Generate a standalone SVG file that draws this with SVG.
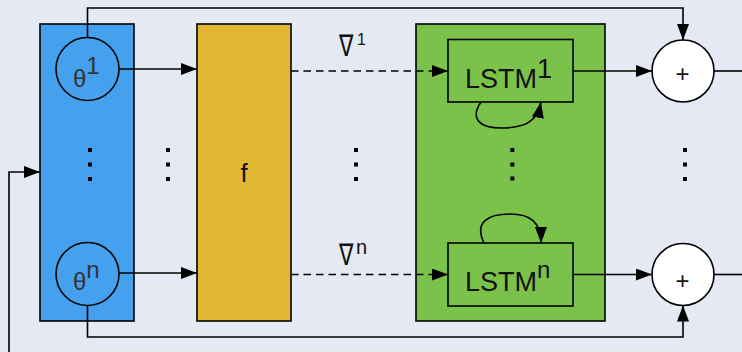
<svg xmlns="http://www.w3.org/2000/svg" width="742" height="352" viewBox="0 0 742 352">
<defs>
<marker id="ah" viewBox="0 0 16 12" refX="16" refY="6" markerWidth="16" markerHeight="12" markerUnits="userSpaceOnUse" orient="auto">
<path d="M0,0 L16,6 L0,12 Z" fill="#000"/>
</marker>
</defs>
<style>
.box{stroke:#000;stroke-width:1.6}
.ln{fill:none;stroke:#000;stroke-width:1.6}
.dash{stroke-dasharray:7.5 5}
.t{font-family:"Liberation Sans",Arial,sans-serif;fill:#111}
.g{font-family:"Liberation Sans",Arial,sans-serif;fill:#333;font-size:24px}
.nab{font-family:"Liberation Sans","DejaVu Sans",sans-serif;fill:#111;font-size:30px}
.dot{fill:#000}
</style>
<rect width="742" height="352" fill="#e5e9f3"/>

<g id="theta-column">
<rect class="box" x="40" y="24" width="94" height="297" fill="#45a0ee"/>
<rect class="dot" x="88" y="148" width="4" height="4"/>
<rect class="dot" x="88" y="162.5" width="4" height="4"/>
<rect class="dot" x="88" y="177" width="4" height="4"/>
</g>
<g id="theta1">
<circle class="box" cx="87.5" cy="69" r="31.5" fill="#45a0ee"/>
<text class="g" x="73" y="87">θ<tspan dy="-13">1</tspan></text>
</g>
<g id="thetan">
<circle class="box" cx="87.5" cy="274" r="31.5" fill="#45a0ee"/>
<text class="g" x="73" y="290">θ<tspan dy="-12">n</tspan></text>
</g>

<g id="dots-a">
<rect class="dot" x="166" y="148" width="4" height="4"/>
<rect class="dot" x="166" y="162.5" width="4" height="4"/>
<rect class="dot" x="166" y="177" width="4" height="4"/>
</g>

<g id="f">
<rect class="box" x="197" y="24" width="94" height="297" fill="#e2b733"/>
<text class="t" x="244" y="182" font-size="26" text-anchor="middle">f</text>
</g>

<g id="grad-labels">
<text class="nab" transform="translate(339,55.5) scale(0.72,1)">∇</text>
<text class="t" x="357" y="45" font-size="16">1</text>
<text class="nab" transform="translate(339,264.5) scale(0.72,1)">∇</text>
<text class="t" x="356" y="254" font-size="20">n</text>
<rect class="dot" x="354" y="148" width="4" height="4"/>
<rect class="dot" x="354" y="162.5" width="4" height="4"/>
<rect class="dot" x="354" y="177" width="4" height="4"/>
</g>

<g id="lstm-column">
<rect class="box" x="416" y="24" width="189" height="297" fill="#7ac24a"/>
<rect class="dot" x="510.3" y="148" width="4" height="4"/>
<rect class="dot" x="510.3" y="162.5" width="4" height="4"/>
<rect class="dot" x="510.3" y="176.5" width="4" height="4"/>
</g>
<g id="lstm1">
<rect class="box" x="448" y="39.5" width="125" height="62.5" fill="#7ac24a"/>
<text class="t" x="465" y="88" font-size="27">LSTM<tspan dy="-10">1</tspan></text>
</g>
<g id="lstmn">
<rect class="box" x="448" y="243" width="125" height="63" fill="#7ac24a"/>
<text class="t" x="465" y="291" font-size="27">LSTM<tspan dy="-13" font-size="24">n</tspan></text>
</g>

<g id="plus1">
<circle class="box" cx="683" cy="71" r="31" fill="#fff"/>
<text class="t" x="682.5" y="82" font-size="24" text-anchor="middle">+</text>
</g>
<g id="plusn">
<circle class="box" cx="683" cy="274.5" r="31" fill="#fff"/>
<text class="t" x="682.5" y="288.5" font-size="24" text-anchor="middle">+</text>
</g>
<g id="dots-b">
<rect class="dot" x="683" y="148" width="4" height="4"/>
<rect class="dot" x="683" y="162.5" width="4" height="4"/>
<rect class="dot" x="683" y="177" width="4" height="4"/>
</g>

<g id="connectors">
<path class="ln" d="M119,69 H197" marker-end="url(#ah)"/>
<path class="ln" d="M119,273 H197" marker-end="url(#ah)"/>
<path class="ln dash" d="M291,71 H448" marker-end="url(#ah)"/>
<path class="ln dash" d="M291,274.5 H448" marker-end="url(#ah)"/>
<path class="ln" d="M573,71 H652" marker-end="url(#ah)"/>
<path class="ln" d="M573,274.5 H652" marker-end="url(#ah)"/>
<path class="ln" d="M714,71 H742"/>
<path class="ln" d="M714,274.5 H742"/>
<path class="ln" d="M87.5,37.5 V8 H683 V40" marker-end="url(#ah)"/>
<path class="ln" d="M87.5,305.5 V337 H683 V305.5" marker-end="url(#ah)"/>
<path class="ln" d="M9,352 V172 H40" marker-end="url(#ah)"/>
<path class="ln" d="M481,102 C470,118 478,129 505,128 C525,127 537,122 541,102" marker-end="url(#ah)"/>
<path class="ln" d="M484,243 C474,222 488,214 510,214 C530,214 541,222 541,243" marker-end="url(#ah)"/>
</g>
</svg>
